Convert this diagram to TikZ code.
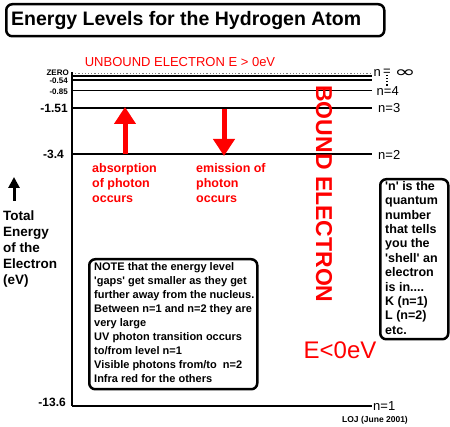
\documentclass[tikz,border=0pt]{standalone}
\usepackage{fontspec}
\setmainfont{Liberation Sans}
\newfontfamily\dejavu{DejaVu Sans}
\usetikzlibrary{arrows.meta}
\definecolor{ured}{RGB}{255,0,0}
\begin{document}
\begin{tikzpicture}[x=1pt,y=-1pt,
  lvl/.style={line width=2pt},
  vlab/.style={font=\bfseries\fontsize{12}{14}\selectfont, anchor=east, inner sep=0pt},
  smalllab/.style={font=\bfseries\fontsize{8}{9}\selectfont, anchor=east, inner sep=0pt},
  nlab/.style={font=\fontsize{13}{15}\selectfont, anchor=west, inner sep=0pt},
  redtxt/.style={text=ured, font=\bfseries\fontsize{12.5}{15}\selectfont, align=left, anchor=north west, inner sep=0pt},
  roundbox/.style={draw, line width=2.5pt, rounded corners=6pt, anchor=north west, inner sep=0pt},
  redarrow/.style={ured, line width=5pt, -{Triangle[width=21pt,length=17pt]}}]
\useasboundingbox (0,0) rectangle (450,427);

% title
\node[roundbox, minimum width=378pt, minimum height=32pt] (title) at (5,3) {};
\node[anchor=west, inner sep=0pt, font=\bfseries\fontsize{19.5}{22}\selectfont] (titletxt) at ([xshift=6pt]title.west) {Energy Levels for the Hydrogen Atom};

% unbound
\node[text=ured, inner sep=0pt, font=\fontsize{13}{15}\selectfont] (unbound) at (180,62.5) {UNBOUND ELECTRON E > 0eV};

% axis and level coordinates
\coordinate (zeroL) at (72,73.5);  \coordinate (zeroR) at (372,73.5);
\coordinate (l5L) at (72,76);      \coordinate (l5R) at (372,76);
\coordinate (l54L) at (72,80);     \coordinate (l54R) at (372,80);
\coordinate (l4L) at (72,90.5);    \coordinate (l4R) at (372,90.5);
\coordinate (l3L) at (72,108);     \coordinate (l3R) at (372,108);
\coordinate (l2L) at (72,154.5);   \coordinate (l2R) at (372,154.5);
\coordinate (l1L) at (72,406);     \coordinate (l1R) at (372,406);

\draw[gray, line width=1.2pt, dotted] (zeroL) -- (zeroR);
\draw[line width=1.2pt] (l5L) -- (l5R);
\draw[line width=1.5pt] (l54L) -- (l54R);
\draw[line width=1.6pt] (l4L) -- (l4R);
\draw[line width=2.5pt] (l3L) -- (l3R);
\draw[lvl] (l2L) -- (l2R);
\draw[lvl] (l1L) -- (l1R);
\coordinate (axtop) at (72,72.5);
\draw[line width=2pt] (axtop) -- (l1L);

% value labels
\node[smalllab] (vzero) at (69,73) {ZERO};
\node[smalllab] (v054) at (68,80.5) {-0.54};
\node[smalllab] (v085) at (68,91.5) {-0.85};
\node[vlab] (v151) at (68,108) {-1.51};
\node[vlab] (v34) at (64,154.5) {-3.4};
\node[vlab] (v136) at (66,402) {-13.6};

% n labels
\node[nlab] (ninf) at (373.5,73) {n};
\node[nlab] (neq) at (383,72.5) {=};
\draw[line width=1.2pt, dotted] ([yshift=1pt]neq.south) -- ++(0,12);
\node[anchor=west, inner sep=0pt, xscale=1.6, font=\dejavu\fontsize{16}{16}\selectfont] (infty) at (394,74) {∞};
\node[nlab] (n4) at (376.5,91) {n=4};
\node[nlab] (n3) at (378,108) {n=3};
\node[nlab] (n2) at (378,155) {n=2};
\node[nlab] (n1) at (373,406) {n=1};

% photon arrows
\coordinate (ab0) at (125,154.5); \coordinate (ab1) at (125,107);
\coordinate (em0) at (224,109);   \coordinate (em1) at (224,156);
\draw[redarrow] (ab0) -- (ab1);
\draw[redarrow] (em0) -- (em1);
\node[redtxt] (abs) at (92,163) {absorption\\of photon\\occurs};
\node[redtxt] (emi) at (196,163) {emission of\\photon\\occurs};

% bound electron
\node[rotate=-90, text=ured, inner sep=0pt, font=\bfseries\fontsize{23}{23}\selectfont] (bound) at (324,194) {BOUND ELECTRON};
\node[text=ured, inner sep=0pt, font=\fontsize{24}{24}\selectfont] (elt) at (340,350) {E<0eV};

% total energy
\coordinate (ta0) at (14,201); \coordinate (ta1) at (14,177);
\draw[line width=3pt, -{Triangle[width=11pt,length=11pt]}] (ta0) -- (ta1);
\node[anchor=north west, align=left, inner sep=0pt, font=\bfseries\fontsize{13.5}{16}\selectfont] (total) at (3,211) {Total\\Energy\\of the\\Electron\\(eV)};

% note box
\node[roundbox, minimum width=168pt, minimum height=130pt] (note) at (88,258) {};
\node[anchor=north west, align=left, inner sep=0pt, font=\bfseries\fontsize{11}{14.1}\selectfont] (notetxt) at (94,262) {NOTE that the energy level\\\textquotesingle gaps\textquotesingle\ get smaller as they get\\further away from the nucleus.\\Between n=1 and n=2 they are\\very large\\UV photon transition occurs\\to/from level n=1\\Visible photons from/to\ \ n=2\\Infra red for the others};

% n box
\node[roundbox, minimum width=68pt, minimum height=160pt] (nbox) at (379,178) {};
\node[anchor=north west, align=left, inner sep=0pt, font=\bfseries\fontsize{12.5}{14.4}\selectfont] (nboxtxt) at (385,181) {\textquotesingle n\textquotesingle\ is the\\quantum\\number\\that tells\\you the\\\textquotesingle shell\textquotesingle\ an\\electron\\is in....\\K (n=1)\\L (n=2)\\etc.};

% credit
\node[inner sep=0pt, font=\bfseries\fontsize{8.5}{10}\selectfont] (credit) at (375,420) {LOJ (June 2001)};
\end{tikzpicture}
\end{document}
